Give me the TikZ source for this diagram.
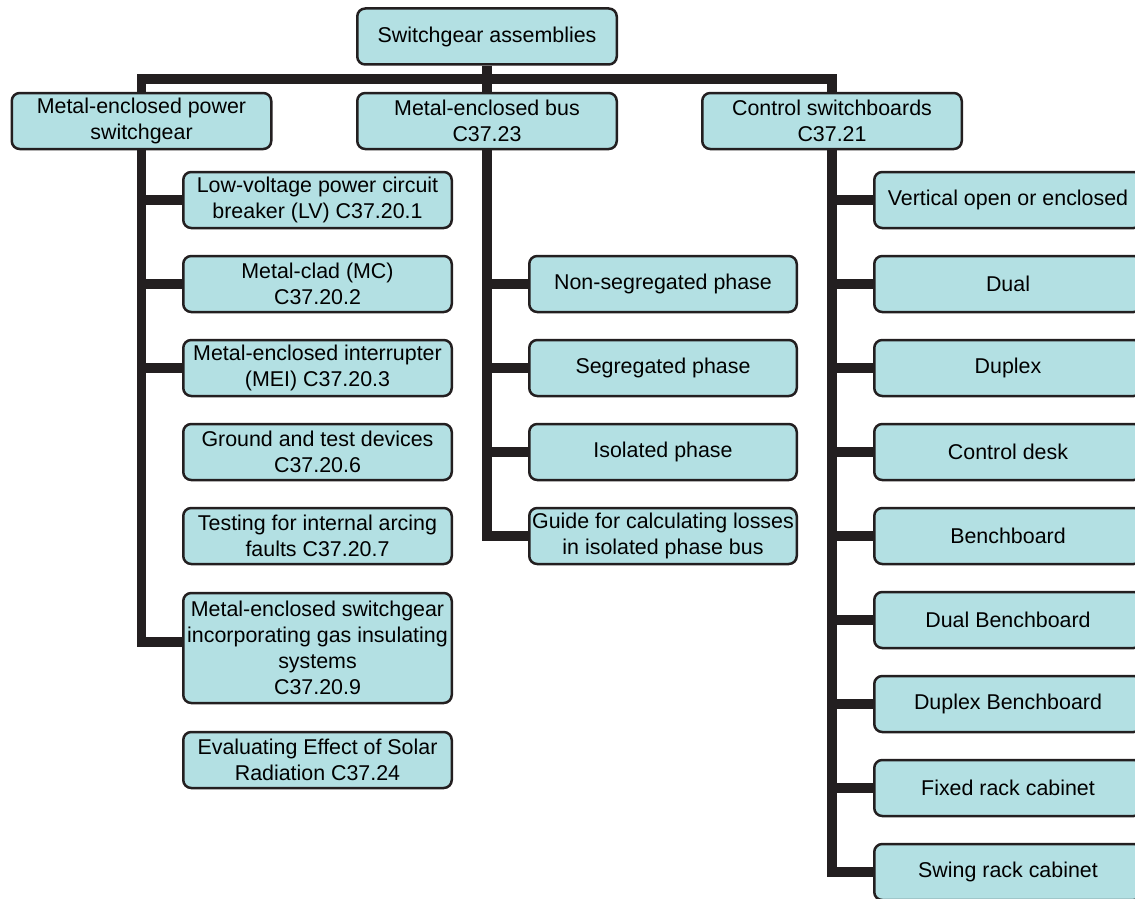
\documentclass[tikz,border=0pt]{standalone}
\usepackage{fontspec}
\setmainfont{Liberation Sans}
\usetikzlibrary{positioning}
\definecolor{boxfill}{RGB}{179,224,227}
\definecolor{ink}{RGB}{35,31,32}
\tikzset{
  box/.style={draw=ink, line width=2.5pt, fill=boxfill, rounded corners=8pt, align=center,
    inner sep=2pt, minimum height=56pt, font=\fontsize{21.4}{26}\selectfont},
  topbox/.style={box, minimum width=259.5pt},
  leftbox/.style={box, minimum width=268.5pt},
  midbox/.style={box, minimum width=267.5pt},
  rightbox/.style={box, minimum width=267.5pt},
  conn/.style={draw=ink, line width=9.5pt},
}
\begin{document}
\begin{tikzpicture}[x=1pt,y=-1pt]

\useasboundingbox (0,0) rectangle (1135,899);
\clip (0,0) rectangle (1135,899);

% top and first level
\node[topbox] (top) at (487,36.5) {Switchgear assemblies};
\node[topbox] (power) at (141.5,121) {Metal-enclosed power\\switchgear};
\node[topbox] (bus) at (487,121) {Metal-enclosed bus\\C37.23};
\node[topbox] (ctrl) at (832,121) {Control switchboards\\C37.21};

% metal-enclosed power switchgear
\node[leftbox] (lv) at (317.5,200) {Low-voltage power circuit\\breaker (LV) C37.20.1};
\node[leftbox] (mc) at (317.5,284) {Metal-clad (MC)\\C37.20.2};
\node[leftbox] (mei) at (317.5,368) {Metal-enclosed interrupter\\(MEI) C37.20.3};
\node[leftbox] (ground) at (317.5,452) {Ground and test devices\\C37.20.6};
\node[leftbox] (arc) at (317.5,536) {Testing for internal arcing\\faults C37.20.7};
\node[leftbox, minimum height=110pt] (gis) at (317.5,648) {Metal-enclosed switchgear\\incorporating gas insulating\\systems\\C37.20.9};
\node[leftbox] (solar) at (317.5,760) {Evaluating Effect of Solar\\Radiation C37.24};

% metal-enclosed bus
\node[midbox] (nonseg) at (663,284) {Non-segregated phase};
\node[midbox] (seg) at (663,368) {Segregated phase};
\node[midbox] (iso) at (663,452) {Isolated phase};
\node[midbox] (guide) at (663,536) {Guide for calculating losses\\in isolated phase bus};

% control switchboards
\node[rightbox] (vert) at (1008,200) {Vertical open or enclosed};
\node[rightbox] (dual) at (1008,284) {Dual};
\node[rightbox] (duplex) at (1008,368) {Duplex};
\node[rightbox] (desk) at (1008,452) {Control desk};
\node[rightbox] (bench) at (1008,536) {Benchboard};
\node[rightbox] (dbench) at (1008,620) {Dual Benchboard};
\node[rightbox] (dxbench) at (1008,704) {Duplex Benchboard};
\node[rightbox] (fixed) at (1008,788) {Fixed rack cabinet};
\node[rightbox] (swing) at (1008,872) {Swing rack cabinet};

% connectors
\coordinate (bar) at (487,79);
\draw[conn] (power.north) |- (bar) -| (ctrl.north);
\draw[conn] (top.south) -- (bus.north);

\draw[conn] (power.south) |- ([yshift=6pt]gis.west);
\foreach \n in {lv, mc, mei}
  \draw[conn] (\n.west -| power.south) -- (\n.west);

\draw[conn] (bus.south) |- (guide.west);
\foreach \n in {nonseg, seg, iso}
  \draw[conn] (\n.west -| bus.south) -- (\n.west);

\draw[conn] (ctrl.south) |- (swing.west);
\foreach \n in {vert, dual, duplex, desk, bench, dbench, dxbench, fixed}
  \draw[conn] (\n.west -| ctrl.south) -- (\n.west);

\end{tikzpicture}
\end{document}
